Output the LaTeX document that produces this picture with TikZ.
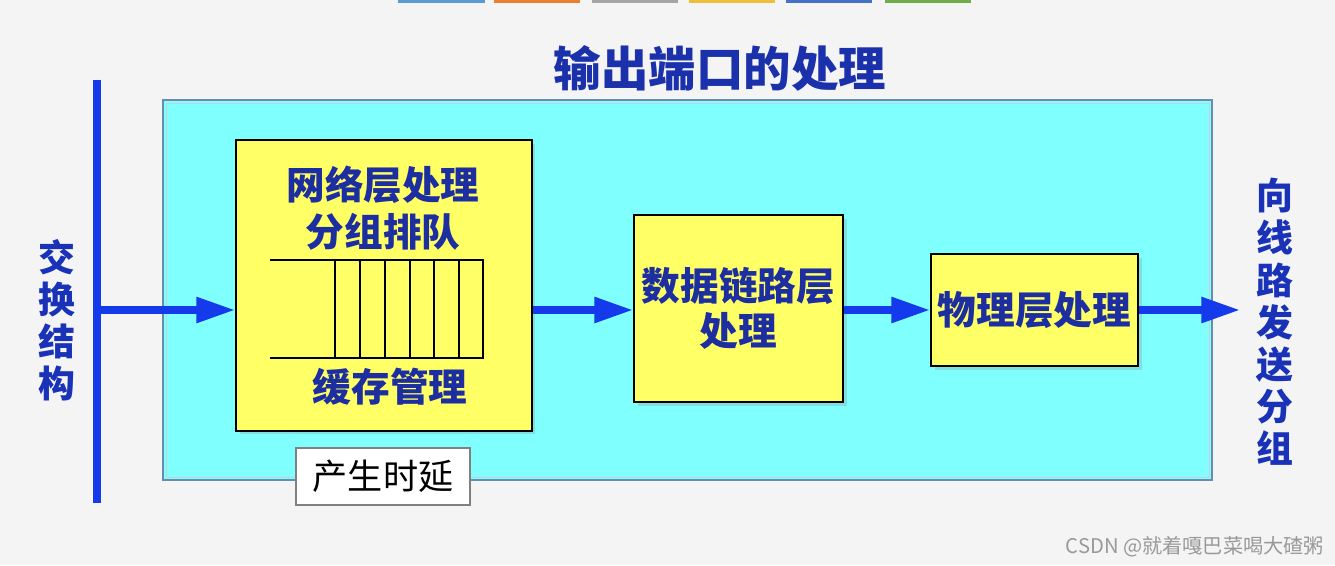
\documentclass[tikz,border=0pt]{standalone}
\usepackage{fontspec}
\newfontfamily\cjk{Noto Sans CJK SC}
\usetikzlibrary{arrows.meta,positioning,shadows}
\definecolor{slidebg}{RGB}{244,244,244}
\definecolor{slideblue}{RGB}{28,46,160}
\definecolor{linkblue}{RGB}{20,58,235}
\definecolor{panelcyan}{RGB}{128,255,255}
\definecolor{panelrim}{RGB}{104,140,172}
\definecolor{boxyellow}{RGB}{255,255,102}
\definecolor{tabA}{RGB}{91,155,213}
\definecolor{tabB}{RGB}{237,125,49}
\definecolor{tabC}{RGB}{165,165,165}
\definecolor{tabD}{RGB}{240,190,60}
\definecolor{tabE}{RGB}{68,114,196}
\definecolor{tabF}{RGB}{112,173,71}
\tikzset{
  stage/.style     = {rectangle, draw=black, line width=1.2pt,
                      fill=boxyellow, align=center, inner sep=0pt,
                      drop shadow={opacity=0.25, shadow xshift=2pt, shadow yshift=-2pt},
                      text=slideblue, font=\cjk\bfseries\fontsize{22}{25.5}\selectfont},
  stagetext/.style = {align=center, inner sep=0pt, text=slideblue,
                      font=\cjk\bfseries\fontsize{22}{26.6}\selectfont},
  sidetext/.style  = {align=center, inner sep=0pt, text=slideblue!70!linkblue,
                      font=\cjk\bfseries\fontsize{21}{24}\selectfont},
  headline/.style  = {inner sep=0pt, text=slideblue!85!linkblue,
                      font=\cjk\bfseries\fontsize{27}{30}\selectfont},
  delaybox/.style  = {rectangle, draw=gray, fill=white, line width=0.6pt,
                      minimum width=3.48cm, minimum height=1.14cm,
                      font=\cjk\fontsize{20}{24}\selectfont},
  credit/.style    = {inner sep=0pt, text=gray!80,
                      font=\cjk\fontsize{11.5}{14}\selectfont},
  flow/.style      = {draw=linkblue, line width=4pt,
                      -{Triangle[length=22pt,width=14pt]}},
  fabric/.style    = {draw=linkblue, line width=4.5pt}
}
\begin{document}
\begin{tikzpicture}[x=0.02cm, y=-0.02cm]
  % slide background and tabs
  \fill[slidebg] (0,0) rectangle (1335,565);
  \foreach \xa/\xb/\col in {398/485/tabA, 494/580/tabB, 592/678/tabC,
                            689/775/tabD, 786/872/tabE, 885/971/tabF}
    \fill[\col] (\xa,0) rectangle (\xb,3);

  \node[headline] (title) at (720,68) {输出端口的处理};
  \draw[panelrim, line width=1.6pt, fill=panelcyan] (163,100) rectangle (1212,480);
  \draw[panelrim!40!white, line width=0.5pt] (166,103) rectangle (1209,477);

  % switching fabric side
  \draw[fabric] (97,80) -- (97,503);
  \coordinate (fabric) at (97,310);
  \node[sidetext] (fabtext) at (57,320) {交\\换\\结\\构};

  % stages
  \node[stage, minimum width=5.92cm, minimum height=5.82cm] (netbox) at (384,285.5) {};
  \node[stagetext] (nettext) at (383,208) {网络层处理\\分组排队};
  \draw[line width=0.8pt] (270,260) -- (483,260) -- (483,358) -- (270,358);
  \foreach \qx in {335,360,385,410,434,459}
    \draw[line width=0.6pt] (\qx,260) -- (\qx,358);
  \node[stagetext] (buftext) at (390,387) {缓存管理};

  \node[stage, minimum width=4.18cm, minimum height=3.74cm] (linkbox) at (738.5,308.5) {数据链路层\\处理};
  \node[stage, minimum width=4.14cm, minimum height=2.24cm] (phybox) at (1034.5,310) {物理层处理};

  \coordinate (out) at (1240,310);
  \node[sidetext] (outtext) at (1275,322) {向\\线\\路\\发\\送\\分\\组};

  \draw[flow] (fabric) -- (fabric -| netbox.west);
  \draw[flow] (netbox.east |- fabric) -- (linkbox.west |- fabric);
  \draw[flow] (linkbox.east |- fabric) -- (phybox.west |- fabric);
  \draw[flow] (phybox.east |- fabric) -- (out);

  \node[delaybox] (delay) at (383,476.5) {产生时延};
  \node[credit] (csdn) at (1195,547) {CSDN @就着嘎巴菜喝大碴粥};
\end{tikzpicture}
\end{document}
